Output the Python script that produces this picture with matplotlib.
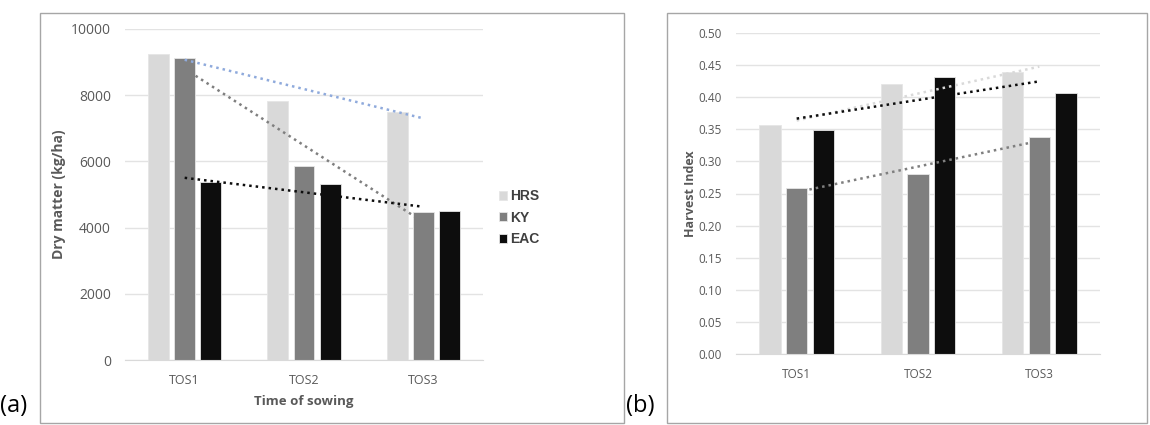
import numpy as np
import matplotlib
matplotlib.use("Agg")
import matplotlib.pyplot as plt
from matplotlib.patches import Rectangle

categories = ["TOS1", "TOS2", "TOS3"]
series = ["HRS", "KY", "EAC"]

# panel (a): dry matter (kg/ha)
dm_hrs = [9250, 7825, 7480]
dm_ky = [9110, 5860, 4480]
dm_eac = [5385, 5305, 4510]

# panel (b): harvest index
hi_hrs = [0.356, 0.421, 0.440]
hi_ky = [0.258, 0.280, 0.338]
hi_eac = [0.349, 0.431, 0.407]

bar_colors = ["#d9d9d9", "#7f7f7f", "#0d0d0d"]
text_grey = "#595959"
plt.rcParams["font.family"] = ["Open Sans", "DejaVu Sans"]

fig = plt.figure(figsize=(11.5, 4.25), dpi=100)


def px_box(left, top, right, bottom):
    # figure fraction rect from pixel edges
    return [left / 1150, 1 - bottom / 425, (right - left) / 1150, (bottom - top) / 425]


def draw_panel(ax, data, trend_colors, tick_size):
    x = np.arange(len(categories))
    width = 0.175
    offsets = [-0.22, 0.0, 0.22]
    for vals, col, off, name in zip(data, bar_colors, offsets, series):
        ax.bar(x + off, vals, width, color=col, edgecolor="#e6e6e6",
               linewidth=0.6, label=name, zorder=2)
    # linear trendlines (as the spreadsheet draws them)
    for vals, col in zip(data, trend_colors):
        k, b = np.polyfit(x, vals, 1)
        ax.plot(x[[0, -1]], k * x[[0, -1]] + b, color=col,
                linestyle=(0, (1, 1.6)), linewidth=1.8, zorder=3)
    ax.set_xlim(-0.5, 2.5)
    ax.set_xticks(x)
    ax.set_xticklabels(categories)
    ax.grid(axis="y", color="#e3e3e3", linewidth=1, zorder=0)
    for s in ["top", "right", "left"]:
        ax.spines[s].set_visible(False)
    ax.spines["bottom"].set_color("#d9d9d9")
    ax.tick_params(length=0, colors=text_grey, labelsize=tick_size)
    ax.tick_params(axis="y", pad=10)
    ax.tick_params(axis="x", pad=10)


# panel (a)
ax1 = fig.add_axes(px_box(125, 29, 483, 360))
draw_panel(ax1, [dm_hrs, dm_ky, dm_eac], ["#8faadc", "#7f7f7f", "#0d0d0d"], 10)
ax1.set_ylim(0, 10000)
ax1.set_yticks(np.arange(0, 10001, 2000))
ax1.set_ylabel("Dry matter (kg/ha)", fontsize=10, fontweight="bold",
               color=text_grey, labelpad=4)
ax1.set_xlabel("Time of sowing", fontsize=9.5, fontweight="bold",
               color=text_grey, labelpad=6)
for lab in ax1.get_xticklabels():
    lab.set_fontsize(9)
leg = ax1.legend(loc="center left", bbox_to_anchor=(1.01, 0.43), frameon=False,
                 handlelength=0.6, handleheight=0.6, handletextpad=0.2,
                 labelspacing=0.55, prop={"family": "Liberation Sans",
                                          "weight": "bold", "size": 10})
for t in leg.get_texts():
    t.set_color("#404040")

# panel (b)
ax2 = fig.add_axes(px_box(736, 33, 1100, 354))
draw_panel(ax2, [hi_hrs, hi_ky, hi_eac], ["#d9d9d9", "#7f7f7f", "#0d0d0d"], 8.5)
ax2.set_ylim(0, 0.5)
ax2.set_yticks(np.arange(0, 0.501, 0.05))
ax2.set_yticklabels([f"{v:.2f}" for v in np.arange(0, 0.501, 0.05)])
ax2.set_ylabel("Harvest Index", fontsize=9, fontweight="bold",
               color=text_grey, labelpad=1)

# outer frames and panel letters
for l, r in [(40, 624), (667, 1147)]:
    fig.add_artist(Rectangle((l / 1150, 1 - 423 / 425), (r - l) / 1150, 410 / 425,
                             transform=fig.transFigure, fill=False,
                             edgecolor="#a6a6a6", linewidth=1))
fig.text(0, 1 - 406 / 425, "(a)", fontsize=17, va="center", ha="left")
fig.text(626 / 1150, 1 - 406 / 425, "(b)", fontsize=17, va="center", ha="left")

fig.savefig("out.png", dpi=100)
